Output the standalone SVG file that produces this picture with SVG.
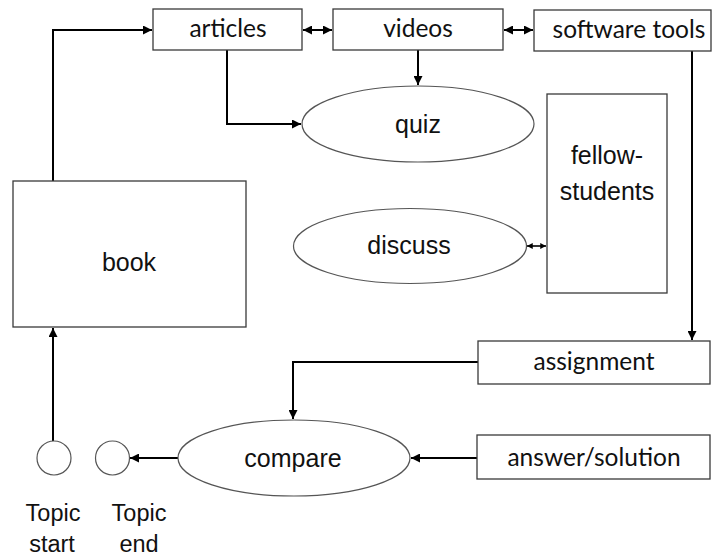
<svg xmlns="http://www.w3.org/2000/svg" width="712" height="556" viewBox="0 0 712 556">
  <style>
    .box { fill: #ffffff; stroke: #3a3a3a; stroke-width: 1.3; }
    .oval { fill: #ffffff; stroke: #555555; stroke-width: 1.2; }
    .hum { font-family: Lato, "Open Sans", sans-serif; font-size: 24.5px; fill: #111111; text-anchor: middle; }
    .ari { font-family: "Liberation Sans", Arial, sans-serif; font-size: 25px; fill: #111111; text-anchor: middle; }
    .lbl { font-family: "Liberation Sans", Arial, sans-serif; font-size: 23.5px; fill: #111111; text-anchor: middle; }
    .wire { fill: none; stroke: #000000; stroke-width: 2; }
    .wire-thin { fill: none; stroke: #000000; stroke-width: 1.6; }
  </style>
  <defs>
    <marker id="tip" viewBox="0 0 10 10" refX="10" refY="5" markerWidth="4.5" markerHeight="4.5" markerUnits="strokeWidth" orient="auto-start-reverse">
      <path d="M0,0 L10,5 L0,10 z" fill="#000000"/>
    </marker>
    <marker id="tip-sm" viewBox="0 0 10 10" refX="10" refY="5" markerWidth="3.6" markerHeight="3.6" markerUnits="strokeWidth" orient="auto-start-reverse">
      <path d="M0,0 L10,5 L0,10 z" fill="#000000"/>
    </marker>
  </defs>

  <rect width="712" height="556" fill="#ffffff"/>

  <!-- connectors -->
  <g id="connectors">
    <path class="wire" d="M53,181 V30 H152" marker-end="url(#tip)"/>
    <path class="wire" d="M303,30 H332" marker-start="url(#tip)" marker-end="url(#tip)"/>
    <path class="wire" d="M504,30 H533" marker-start="url(#tip)" marker-end="url(#tip)"/>
    <path class="wire" d="M227,50 V124 H301" marker-end="url(#tip)"/>
    <path class="wire" d="M418,50 V85" marker-end="url(#tip)"/>
    <path class="wire-thin" d="M527,246 H546" marker-start="url(#tip-sm)" marker-end="url(#tip-sm)"/>
    <path class="wire" d="M692,51 V340" marker-end="url(#tip)"/>
    <path class="wire" d="M478,362 H293 V419" marker-end="url(#tip)"/>
    <path class="wire" d="M477,458 H411" marker-end="url(#tip)"/>
    <path class="wire" d="M178,458 H130" marker-end="url(#tip)"/>
    <path class="wire" d="M53,441 V328" marker-end="url(#tip)"/>
  </g>

  <g id="articles">
    <rect class="box" x="153" y="9" width="149" height="41"/>
    <text class="hum" x="228" y="37">articles</text>
  </g>
  <g id="videos">
    <rect class="box" x="333" y="9" width="170" height="41"/>
    <text class="hum" x="418" y="37">videos</text>
  </g>
  <g id="software-tools">
    <rect class="box" x="534" y="10" width="177" height="41"/>
    <text class="hum" x="629" y="38">software tools</text>
  </g>
  <g id="quiz">
    <ellipse class="oval" cx="418" cy="124" rx="116" ry="38"/>
    <text class="ari" x="418" y="133">quiz</text>
  </g>
  <g id="fellow-students">
    <rect class="box" x="547" y="94" width="120" height="199"/>
    <text class="ari" x="607" y="164">fellow-</text>
    <text class="ari" x="607" y="200">students</text>
  </g>
  <g id="book">
    <rect class="box" x="13" y="181" width="233" height="146"/>
    <text class="ari" x="129" y="271">book</text>
  </g>
  <g id="discuss">
    <ellipse class="oval" cx="410" cy="246" rx="116.5" ry="37.5"/>
    <text class="ari" x="409" y="254">discuss</text>
  </g>
  <g id="assignment">
    <rect class="box" x="478" y="341" width="232" height="43"/>
    <text class="hum" x="594" y="370">assignment</text>
  </g>
  <g id="compare">
    <ellipse class="oval" cx="294" cy="458" rx="116" ry="38"/>
    <text class="ari" x="293" y="467">compare</text>
  </g>
  <g id="answer-solution">
    <rect class="box" x="477" y="435" width="233" height="44"/>
    <text class="hum" x="594" y="466">answer/solution</text>
  </g>
  <g id="topic-start">
    <circle class="oval" cx="54" cy="458" r="17"/>
    <text class="lbl" x="53" y="521">Topic</text>
    <text class="lbl" x="52" y="552">start</text>
  </g>
  <g id="topic-end">
    <circle class="oval" cx="112.5" cy="458" r="17"/>
    <text class="lbl" x="139" y="521">Topic</text>
    <text class="lbl" x="139" y="552">end</text>
  </g>
</svg>
